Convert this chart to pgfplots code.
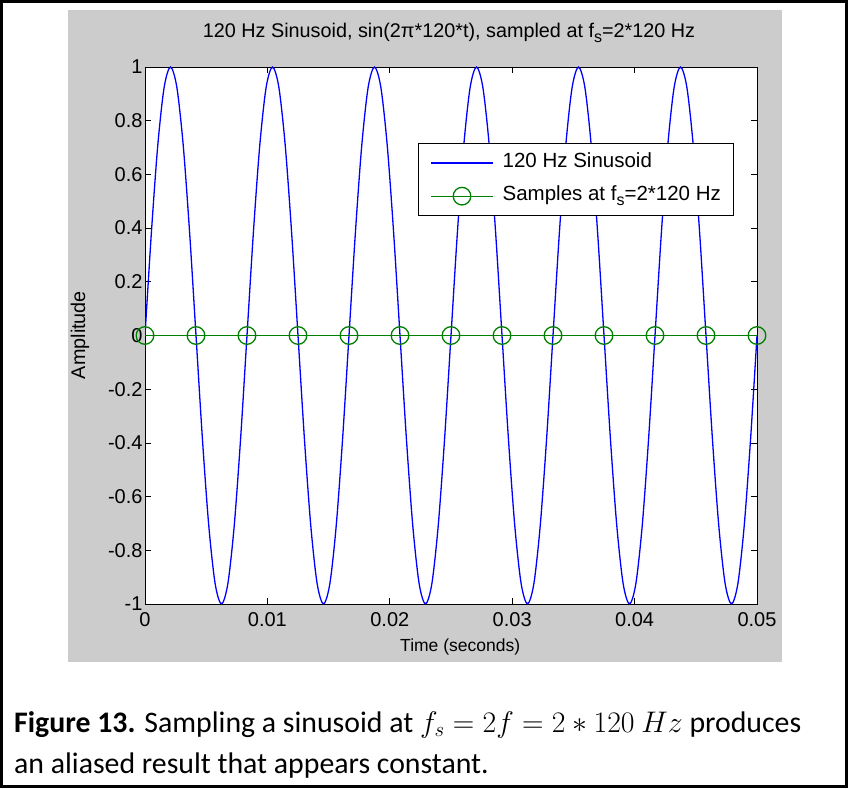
\RequirePackage{fix-cm}
\documentclass[border=0pt]{standalone}
\usepackage{fontspec}
\setmainfont{Liberation Sans}
\newfontfamily\calibri{Carlito}
\usepackage{pgfplots}
\pgfplotsset{compat=1.18}
\usepackage{pgfplotstable}

\definecolor{figgray}{RGB}{204,204,204}
\definecolor{mblue}{RGB}{0,0,255}
\definecolor{mgreen}{RGB}{0,128,0}

% 120 Hz sinusoid, 16 points per period
\pgfplotstableread{
t y
0.000000 0
0.000521 0.3827
0.001042 0.7071
0.001563 0.9239
0.002083 1
0.002604 0.9239
0.003125 0.7071
0.003646 0.3827
0.004167 0
0.004688 -0.3827
0.005208 -0.7071
0.005729 -0.9239
0.006250 -1
0.006771 -0.9239
0.007292 -0.7071
0.007813 -0.3827
0.008333 0
0.008854 0.3827
0.009375 0.7071
0.009896 0.9239
0.010417 1
0.010938 0.9239
0.011458 0.7071
0.011979 0.3827
0.012500 0
0.013021 -0.3827
0.013542 -0.7071
0.014063 -0.9239
0.014583 -1
0.015104 -0.9239
0.015625 -0.7071
0.016146 -0.3827
0.016667 0
0.017188 0.3827
0.017708 0.7071
0.018229 0.9239
0.018750 1
0.019271 0.9239
0.019792 0.7071
0.020313 0.3827
0.020833 0
0.021354 -0.3827
0.021875 -0.7071
0.022396 -0.9239
0.022917 -1
0.023438 -0.9239
0.023958 -0.7071
0.024479 -0.3827
0.025000 0
0.025521 0.3827
0.026042 0.7071
0.026563 0.9239
0.027083 1
0.027604 0.9239
0.028125 0.7071
0.028646 0.3827
0.029167 0
0.029688 -0.3827
0.030208 -0.7071
0.030729 -0.9239
0.031250 -1
0.031771 -0.9239
0.032292 -0.7071
0.032813 -0.3827
0.033333 0
0.033854 0.3827
0.034375 0.7071
0.034896 0.9239
0.035417 1
0.035938 0.9239
0.036458 0.7071
0.036979 0.3827
0.037500 0
0.038021 -0.3827
0.038542 -0.7071
0.039063 -0.9239
0.039583 -1
0.040104 -0.9239
0.040625 -0.7071
0.041146 -0.3827
0.041667 0
0.042188 0.3827
0.042708 0.7071
0.043229 0.9239
0.043750 1
0.044271 0.9239
0.044792 0.7071
0.045313 0.3827
0.045833 0
0.046354 -0.3827
0.046875 -0.7071
0.047396 -0.9239
0.047917 -1
0.048438 -0.9239
0.048958 -0.7071
0.049479 -0.3827
0.050000 0
}\sinetable

% samples at fs = 240 Hz
\pgfplotstableread{
t y
0.000000 0
0.004167 0
0.008333 0
0.012500 0
0.016667 0
0.020833 0
0.025000 0
0.029167 0
0.033333 0
0.037500 0
0.041667 0
0.045833 0
0.050000 0
}\sampletable

\newcommand{\tfont}{\fontsize{20}{24}\selectfont}
\newcommand{\lfont}{\fontsize{20.5}{24}\selectfont}
% MATLAB-style subscript s: nearly full size, dropped
\newcommand{\fs}{f\raisebox{-0.45ex}{\fontsize{16}{16}\selectfont s}}

\begin{document}
\begin{tikzpicture}[x=1pt,y=1pt]
\useasboundingbox (0,0) rectangle (848,788);
\fill[white] (0,0) rectangle (848,788);
\fill[figgray] (68,126) rectangle (782,778);
\begin{axis}[
    at={(145pt,184pt)}, anchor=south west,
    scale only axis, width=612pt, height=537pt,
    xmin=0, xmax=0.05, ymin=-1, ymax=1,
    scaled x ticks=false,
    axis background/.style={fill=white},
    axis line style={line width=0.8pt},
    tick align=inside,
    major tick length=6pt,
    tick style={black, line width=0.8pt},
    xtick={0,0.01,0.02,0.03,0.04,0.05},
    xticklabels={0,0.01,0.02,0.03,0.04,0.05},
    ytick={-1,-0.8,-0.6,-0.4,-0.2,0,0.2,0.4,0.6,0.8,1},
    yticklabels={-1,-0.8,-0.6,-0.4,-0.2,0,0.2,0.4,0.6,0.8,1},
    tick label style={font=\tfont},
    xticklabel style={yshift=-5pt},
    yticklabel style={xshift=1pt},
    legend cell align=left,
    legend style={at={(0.446,0.858)}, anchor=north west, draw=black,
        line width=0.8pt, font=\lfont, inner xsep=12pt, inner ysep=9pt,
        row sep=12pt, column sep=9pt,
        nodes={inner sep=0pt, text height=15pt, text depth=6pt}},
    legend image code/.code={
        \draw[mark repeat=2, mark phase=2, #1]
            plot coordinates {(0pt,0pt) (31pt,0pt) (62pt,0pt)};},
]
\addplot[mblue, line width=1.3pt, smooth, tension=0.5] table[x=t, y=y] {\sinetable};
\addlegendentry{120 Hz Sinusoid}
\addplot[mgreen, line width=1.3pt, mark=o, mark size=8.8pt,
    mark options={solid, line width=1.3pt}] table[x=t, y=y] {\sampletable};
\addlegendentry{Samples at \fs=2*120 Hz}
\end{axis}
\node[font=\fontsize{19.8}{23}\selectfont] at (449,755) {120 Hz Sinusoid, sin(2π*120*t), sampled at \fs=2*120 Hz};
\node[font=\fontsize{17.5}{21}\selectfont, anchor=west, inner sep=0pt] at (400,141) {Time (seconds)};
\node[font=\fontsize{19.8}{23}\selectfont, rotate=90] at (80,453) {Amplitude};
\draw[line width=3pt] (1.5,1.5) rectangle (846.5,786.5);
\node[anchor=base west, inner sep=0pt, font=\calibri\fontsize{29.8}{41}\selectfont]
    at (14,56) {\textbf{Figure 13.} Sampling a sinusoid at $f_s = 2f = 2 * 120\ Hz$ produces};
\node[anchor=base west, inner sep=0pt, font=\calibri\fontsize{29.8}{41}\selectfont]
    at (14,15) {an aliased result that appears constant.};
\end{tikzpicture}
\end{document}
